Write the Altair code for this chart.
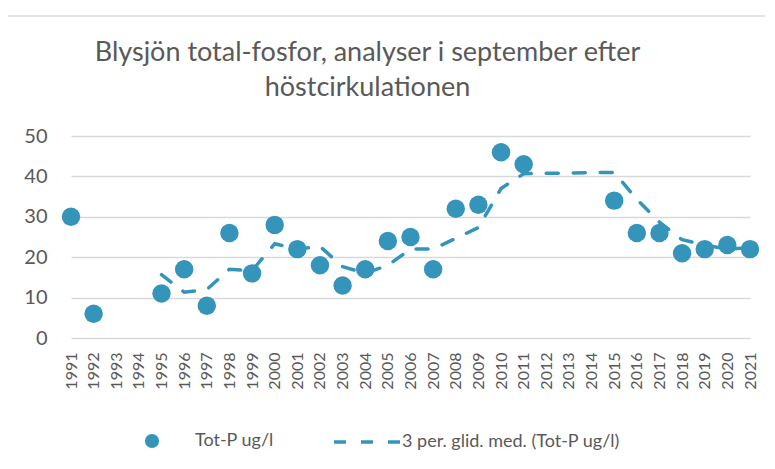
import altair as alt
import pandas as pd

years = [str(y) for y in range(1991, 2022)]
values = [30, 6, None, None, 11, 17, 8, 26, 16, 28, 22, 18, 13, 17, 24, 25, 17,
          32, 33, 46, 43, None, None, None, 34, 26, 26, 21, 22, 23, 22]
series_pts = "Tot-P ug/l"
series_ma = "3 per. glid. med. (Tot-P ug/l)"
title_lines = ["Blysjön total-fosfor, analyser i september efter", "höstcirkulationen"]

df = pd.DataFrame({"year": years, "value": values})
df["s1"] = series_pts

BLUE = "#3494BA"
GREY = "#595959"
FONT = "Lato"

x = alt.X("year:O", title=None,
          scale=alt.Scale(type="point", padding=0, domain=years),
          axis=alt.Axis(labelAngle=270, labelFontSize=16, labelColor=GREY, labelFont=FONT,
                        ticks=False, domain=False, grid=False, labelPadding=14))
y = alt.Y("value:Q", title=None,
          scale=alt.Scale(domain=[0, 50], nice=False),
          axis=alt.Axis(values=[0, 10, 20, 30, 40, 50], labelFontSize=20, labelColor=GREY,
                        labelFont=FONT, ticks=False, domain=False, gridColor="#D9D9D9",
                        gridWidth=1.3, labelPadding=24))

points = alt.Chart(df).mark_circle(size=340, opacity=1).encode(
    x=x, y=y,
    color=alt.Color("s1:N", scale=alt.Scale(domain=[series_pts], range=[BLUE]),
                    legend=alt.Legend(orient="none", legendX=72, legendY=296, title=None,
                                      symbolType="circle", symbolSize=200, labelFontSize=18,
                                      labelFont=FONT, labelColor=GREY, labelOffset=34,
                                      padding=0, symbolStrokeWidth=0)),
)

line = alt.Chart(df).transform_filter("isValid(datum.value)").transform_window(
    ma="mean(value)", n="count()", frame=[-2, 0], sort=[alt.SortField("year")]
).transform_filter("datum.n == 3").transform_calculate(
    s2="'" + series_ma + "'"
).mark_line(color=BLUE, strokeWidth=3.5, strokeCap="round").encode(
    x=x,
    y=alt.Y("ma:Q", scale=alt.Scale(domain=[0, 50], nice=False)),
    strokeDash=alt.StrokeDash("s2:N", scale=alt.Scale(domain=[series_ma], range=[[12, 15]]),
                              legend=alt.Legend(orient="none", legendX=261, legendY=271,
                                                title=None, symbolType="stroke",
                                                symbolSize=4356, symbolStrokeColor=BLUE,
                                                symbolStrokeWidth=3.5, labelFontSize=18,
                                                labelFont=FONT, labelColor=GREY,
                                                labelOffset=0, padding=0)),
)

frame_df = pd.DataFrame({"a": [0]})
top_rule = alt.Chart(frame_df).mark_rule(color="#D9D9D9", strokeWidth=1.5).encode(
    x=alt.value(-65), x2=alt.value(720), y=alt.value(-120))
left_rule = alt.Chart(frame_df).mark_rule(color="#D9D9D9", strokeWidth=1.5).encode(
    x=alt.value(-65), y=alt.value(-120), y2=alt.value(340))

chart = alt.layer(top_rule, left_rule, line, points).properties(
    width=679, height=202,
    padding={"left": 63, "top": 128, "right": 15, "bottom": 120},
    autosize=alt.AutoSizeParams(type="none"),
    title=alt.TitleParams(text=title_lines, fontSize=27, font=FONT, color=GREY,
                          fontWeight="normal", anchor="middle", dx=-43, offset=5, dy=92,
                          baseline="top", lineHeight=35),
).configure_view(stroke=None).configure_legend(labelLimit=400)

chart.save("out.html", embed_options={"renderer": "svg", "actions": False})
